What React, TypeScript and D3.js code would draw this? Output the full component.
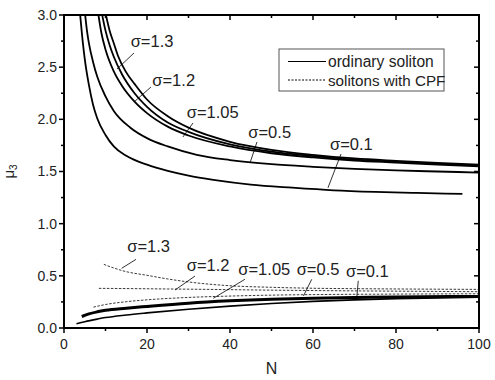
import React from 'react';
import * as d3 from 'd3';

// ordinary soliton, upper branch (mu_3 vs N)
const ordSigma01: [number, number][] = [[3.9, 3.0], [4.5, 2.75], [5, 2.58], [6, 2.33], [7, 2.14], [8, 2.01], [10, 1.85], [12, 1.74], [15, 1.65], [20, 1.565], [25, 1.505], [30, 1.46], [36, 1.42], [45, 1.375], [55, 1.345], [65, 1.32], [75, 1.305], [85, 1.295], [96, 1.285]];
const ordSigma05: [number, number][] = [[5.1, 3.0], [5.6, 2.83], [6, 2.73], [7, 2.55], [8, 2.41], [10, 2.22], [12, 2.08], [16, 1.92], [20, 1.82], [25, 1.74], [32, 1.66], [40, 1.61], [50, 1.57], [60, 1.545], [70, 1.525], [80, 1.51], [90, 1.5], [100, 1.49]];
const ordSigma105: [number, number][] = [[8.3, 3.0], [9, 2.83], [10, 2.67], [12, 2.46], [14, 2.32], [17, 2.17], [20, 2.06], [25, 1.93], [30, 1.845], [40, 1.74], [50, 1.675], [60, 1.635], [70, 1.605], [80, 1.585], [90, 1.565], [100, 1.55]];
const ordSigma12: [number, number][] = [[9.2, 3.0], [10, 2.85], [11, 2.71], [12, 2.6], [14, 2.43], [17, 2.25], [20, 2.12], [25, 1.97], [30, 1.88], [40, 1.76], [50, 1.69], [60, 1.648], [70, 1.613], [80, 1.593], [90, 1.573], [100, 1.558]];
const ordSigma13: [number, number][] = [[10.1, 3.0], [11, 2.85], [12, 2.73], [13, 2.61], [15, 2.45], [17, 2.34], [20, 2.19], [25, 2.03], [30, 1.92], [40, 1.785], [50, 1.708], [60, 1.66], [70, 1.625], [80, 1.602], [90, 1.582], [100, 1.566]];

// lower branch
const cpfSigma13: [number, number][] = [[9.6, 0.61], [12, 0.575], [15, 0.54], [20, 0.505], [25, 0.47], [32, 0.432], [40, 0.405], [50, 0.39], [60, 0.381], [70, 0.377], [80, 0.374], [90, 0.372], [100, 0.37]];
const cpfSigma12: [number, number][] = [[8.4, 0.38], [15, 0.378], [25, 0.374], [35, 0.37], [45, 0.365], [60, 0.359], [80, 0.353], [100, 0.348]];
const cpfSigma105: [number, number][] = [[7.1, 0.2], [10, 0.225], [15, 0.252], [20, 0.27], [30, 0.293], [40, 0.306], [50, 0.315], [60, 0.32], [80, 0.325], [100, 0.328]];
const lowSigma05: [number, number][] = [[4.3, 0.11], [6, 0.135], [8, 0.155], [10, 0.17], [15, 0.19], [20, 0.207], [30, 0.238], [40, 0.26], [50, 0.276], [60, 0.286], [70, 0.292], [80, 0.297], [100, 0.302]];
const lowSigma01: [number, number][] = [[3, 0.04], [5, 0.06], [8, 0.085], [10, 0.1], [15, 0.125], [20, 0.145], [30, 0.18], [40, 0.21], [50, 0.235], [60, 0.255], [70, 0.27], [80, 0.282], [100, 0.295]];

const xTicks = [0, 20, 40, 60, 80, 100];
const yTicks = [0, 0.5, 1.0, 1.5, 2.0, 2.5, 3.0];

// label text, label anchor [N, mu], pointer from, pointer to
const labels: { text: string; at: [number, number]; p1: [number, number]; p2: [number, number] }[] = [
  { text: 'σ=1.3', at: [16.07, 2.69], p1: [16.87, 2.636], p2: [12.77, 2.482] },
  { text: 'σ=1.2', at: [21.28, 2.32], p1: [20.96, 2.31], p2: [16.87, 2.166] },
  { text: 'σ=1.05', at: [29.57, 2.01], p1: [31.08, 1.965], p2: [28.67, 1.831] },
  { text: 'σ=0.5', at: [44.41, 1.818], p1: [46.5, 1.783], p2: [44.82, 1.582] },
  { text: 'σ=0.1', at: [64.1, 1.706], p1: [66.75, 1.668], p2: [63.6, 1.343] },
  { text: 'σ=1.3', at: [15.25, 0.731], p1: [17.35, 0.658], p2: [13.9, 0.572] },
  { text: 'σ=1.2', at: [29.57, 0.546], p1: [31.57, 0.498], p2: [26.75, 0.364] },
  { text: 'σ=1.05', at: [42.0, 0.508], p1: [43.6, 0.467], p2: [36.0, 0.285] },
  { text: 'σ=0.5', at: [56.07, 0.508], p1: [59.7, 0.467], p2: [57.7, 0.307] },
  { text: 'σ=0.1', at: [67.95, 0.486], p1: [70.9, 0.453], p2: [70.5, 0.268] },
];

const FONT = 'Liberation Sans, Arial, sans-serif';

export default function App() {
  const width = 495;
  const height = 380;
  const margin = { top: 15, right: 16, bottom: 52, left: 64 };
  const iw = width - margin.left - margin.right;
  const ih = height - margin.top - margin.bottom;

  const x = d3.scaleLinear().domain([0, 100]).range([0, iw]);
  const y = d3.scaleLinear().domain([0, 3]).range([ih, 0]);

  const line = d3.line<[number, number]>()
    .x(d => x(d[0]))
    .y(d => y(d[1]))
    .curve(d3.curveMonotoneX);

  const xMinor = d3.range(0, 101, 10);
  const yMinor = d3.range(0, 3.01, 0.25);

  const solid = [
    { d: ordSigma01, w: 1.8 },
    { d: ordSigma05, w: 1.8 },
    { d: ordSigma105, w: 1.8 },
    { d: ordSigma12, w: 1.8 },
    { d: ordSigma13, w: 1.8 },
    { d: lowSigma05, w: 3 },
    { d: lowSigma01, w: 1.6 },
  ];
  const dashed = [cpfSigma13, cpfSigma12, cpfSigma105];

  return (
    <svg width={width} height={height} style={{ position: 'absolute', left: 0, top: 0, background: '#fff' }}>
      <defs>
        <clipPath id="plot-clip">
          <rect x={0} y={0} width={iw} height={ih} />
        </clipPath>
      </defs>
      <g transform={`translate(${margin.left},${margin.top})`}>
        <g clipPath="url(#plot-clip)">
          {dashed.map((d, i) => (
            <path key={'d' + i} d={line(d) || ''} fill="none" stroke="#3a3a3a" strokeWidth={1} strokeDasharray="2.5,1.5" />
          ))}
          {solid.map((s, i) => (
            <path key={'s' + i} d={line(s.d) || ''} fill="none" stroke="#000" strokeWidth={s.w} />
          ))}
        </g>

        {labels.map((l, i) => (
          <g key={'l' + i}>
            <line x1={x(l.p1[0])} y1={y(l.p1[1])} x2={x(l.p2[0])} y2={y(l.p2[1])} stroke="#000" strokeWidth={0.8} />
            <text x={x(l.at[0])} y={y(l.at[1])} fontFamily={FONT} fontSize={16.5} fill="#222">{l.text}</text>
          </g>
        ))}

        {/* legend */}
        <g transform={`translate(${iw - 200},${34})`}>
          <rect x={0} y={0} width={165} height={42} fill="#fff" stroke="#555" strokeWidth={1} />
          <line x1={9} x2={47} y1={12.5} y2={12.5} stroke="#000" strokeWidth={1} />
          <text x={49} y={18} fontFamily={FONT} fontSize={15.6} fill="#222">ordinary soliton</text>
          <line x1={9} x2={47} y1={31} y2={31} stroke="#000" strokeWidth={1} strokeDasharray="2,1.5" />
          <text x={49} y={36.5} fontFamily={FONT} fontSize={15.2} fill="#222">solitons with CPF</text>
        </g>

        {/* frame */}
        <rect x={0} y={0} width={iw} height={ih} fill="none" stroke="#000" strokeWidth={2} />

        {/* bottom axis: ticks outward, top mirror inward */}
        {xMinor.map(t => {
          const major = t % 20 === 0;
          const len = major ? 5 : 3;
          return (
            <g key={'xt' + t}>
              <line x1={x(t)} x2={x(t)} y1={ih} y2={ih + len} stroke="#000" strokeWidth={1.5} />
              <line x1={x(t)} x2={x(t)} y1={0} y2={len} stroke="#000" strokeWidth={1.5} />
            </g>
          );
        })}
        {xTicks.map(t => (
          <text key={'xl' + t} x={x(t)} y={ih + 21} textAnchor="middle" fontFamily={FONT} fontSize={14} fill="#222">{t}</text>
        ))}

        {/* left axis: ticks outward, right mirror inward */}
        {yMinor.map(t => {
          const major = Math.abs(t * 2 - Math.round(t * 2)) < 1e-6;
          const len = major ? 5 : 3;
          return (
            <g key={'yt' + t}>
              <line x1={-len} x2={0} y1={y(t)} y2={y(t)} stroke="#000" strokeWidth={1.5} />
              <line x1={iw - len} x2={iw} y1={y(t)} y2={y(t)} stroke="#000" strokeWidth={1.5} />
            </g>
          );
        })}
        {yTicks.map(t => (
          <text key={'yl' + t} x={-7} y={y(t)} dy="0.35em" textAnchor="end" fontFamily={FONT} fontSize={14} fill="#222">{t.toFixed(1)}</text>
        ))}

        <text x={iw / 2} y={ih + 46} textAnchor="middle" fontFamily={FONT} fontSize={16} fill="#222">N</text>
        <text transform={`translate(${-50},${ih / 2}) rotate(-90)`} textAnchor="middle" fontFamily={FONT} fontSize={15} fill="#222">
          μ<tspan fontSize={10} dy="3">3</tspan>
        </text>
      </g>
    </svg>
  );
}
